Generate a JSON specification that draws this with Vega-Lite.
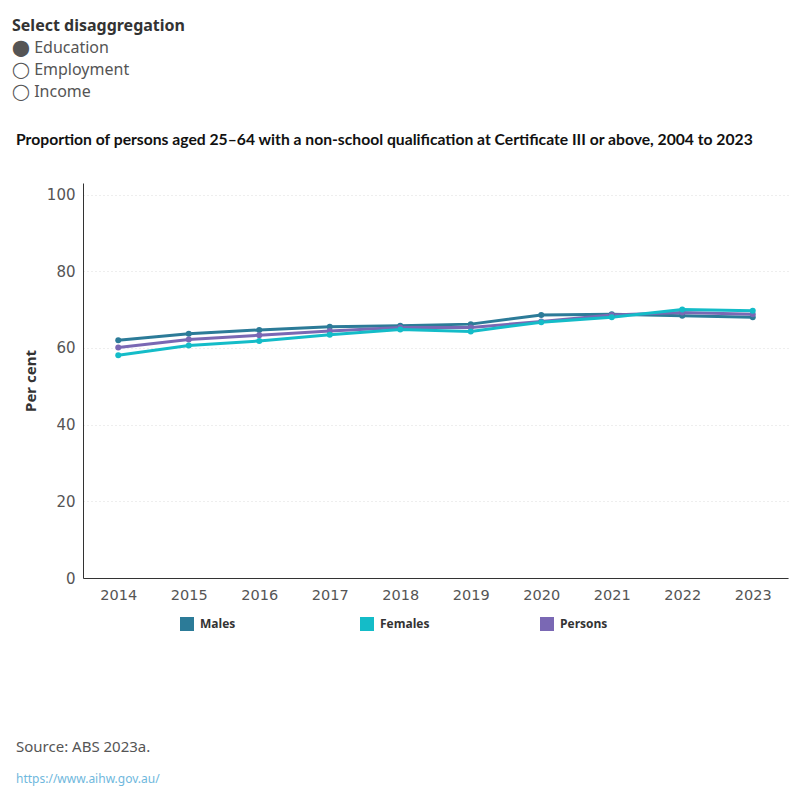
{
  "$schema": "https://vega.github.io/schema/vega-lite/v6.json",
  "background": "white",
  "padding": {"left": 12, "top": 18, "right": 5, "bottom": 5},
  "title": {
    "text": "Select disaggregation",
    "subtitle": ["⬤ Education", "◯ Employment", "◯ Income"],
    "anchor": "start",
    "frame": "bounds",
    "dx": -4,
    "font": "Noto Sans",
    "fontSize": 16,
    "fontWeight": "bold",
    "color": "#333333",
    "subtitleFont": "Noto Sans",
    "subtitleFontSize": 16,
    "subtitleColor": "#555555",
    "subtitleLineHeight": 22,
    "subtitlePadding": 6,
    "offset": 32
  },
  "spacing": 137,
  "vconcat": [
    {
      "width": 705,
      "height": 395,
      "title": {
        "text": "Proportion of persons aged 25–64 with a non-school qualification at Certificate III or above, 2004 to 2023",
        "anchor": "start",
        "frame": "group",
        "dx": -67,
        "font": "Lato",
        "fontSize": 15.7,
        "fontWeight": "bold",
        "color": "#111111",
        "offset": 34
      },
      "data": {
        "values": [
          {"Year": "2014", "Group": "Males", "Value": 62.0},
          {"Year": "2015", "Group": "Males", "Value": 63.7},
          {"Year": "2016", "Group": "Males", "Value": 64.7},
          {"Year": "2017", "Group": "Males", "Value": 65.5},
          {"Year": "2018", "Group": "Males", "Value": 65.8},
          {"Year": "2019", "Group": "Males", "Value": 66.2},
          {"Year": "2020", "Group": "Males", "Value": 68.6},
          {"Year": "2021", "Group": "Males", "Value": 68.8},
          {"Year": "2022", "Group": "Males", "Value": 68.4},
          {"Year": "2023", "Group": "Males", "Value": 68.0},
          {"Year": "2014", "Group": "Persons", "Value": 60.1},
          {"Year": "2015", "Group": "Persons", "Value": 62.2},
          {"Year": "2016", "Group": "Persons", "Value": 63.3},
          {"Year": "2017", "Group": "Persons", "Value": 64.4},
          {"Year": "2018", "Group": "Persons", "Value": 65.3},
          {"Year": "2019", "Group": "Persons", "Value": 65.3},
          {"Year": "2020", "Group": "Persons", "Value": 66.9},
          {"Year": "2021", "Group": "Persons", "Value": 68.6},
          {"Year": "2022", "Group": "Persons", "Value": 69.2},
          {"Year": "2023", "Group": "Persons", "Value": 68.8},
          {"Year": "2014", "Group": "Females", "Value": 58.1},
          {"Year": "2015", "Group": "Females", "Value": 60.6},
          {"Year": "2016", "Group": "Females", "Value": 61.8},
          {"Year": "2017", "Group": "Females", "Value": 63.4},
          {"Year": "2018", "Group": "Females", "Value": 64.8},
          {"Year": "2019", "Group": "Females", "Value": 64.3},
          {"Year": "2020", "Group": "Females", "Value": 66.7},
          {"Year": "2021", "Group": "Females", "Value": 68.0},
          {"Year": "2022", "Group": "Females", "Value": 70.0},
          {"Year": "2023", "Group": "Females", "Value": 69.7}
        ]
      },
      "encoding": {
        "x": {
          "field": "Year",
          "type": "ordinal",
          "scale": {"type": "point", "padding": 0.5},
          "axis": {
            "title": null,
            "labelAngle": 0,
            "ticks": false,
            "grid": false,
            "labelPadding": 10,
            "labelFont": "DejaVu Sans",
            "labelFontSize": 14.5,
            "labelColor": "#555555",
            "domainColor": "#333333"
          }
        },
        "y": {
          "field": "Value",
          "type": "quantitative",
          "scale": {"domain": [0, 103], "nice": false, "zero": true},
          "axis": {
            "title": "Per cent",
            "values": [0, 20, 40, 60, 80, 100],
            "ticks": false,
            "labelPadding": 8,
            "labelFont": "DejaVu Sans",
            "labelFontSize": 15,
            "labelColor": "#555555",
            "titleFont": "Noto Sans",
            "titleFontSize": 15,
            "titleFontWeight": "bold",
            "titleColor": "#333333",
            "titlePadding": 8,
            "domainColor": "#333333",
            "gridColor": "#dddddd",
            "gridDash": [1, 3]
          }
        },
        "color": {
          "field": "Group",
          "type": "nominal",
          "scale": {"domain": ["Males", "Females", "Persons"], "range": ["#2c7b98", "#14bcc8", "#7a68b4"]},
          "legend": {
            "title": null,
            "orient": "none",
            "legendX": 97,
            "legendY": 434,
            "direction": "horizontal",
            "columns": 3,
            "gridAlign": "all",
            "columnPadding": 110,
            "symbolType": "square",
            "symbolSize": 196,
            "symbolOpacity": 1,
            "symbolStrokeWidth": 0,
            "labelFont": "Open Sans",
            "labelFontSize": 12,
            "labelFontWeight": "bold",
            "labelColor": "#333333",
            "labelOffset": 6,
            "padding": 0,
            "encode": {
              "symbols": {
                "update": {
                  "fill": {"scale": "color", "field": "value"},
                  "fillOpacity": {"value": 1},
                  "strokeWidth": {"value": 0}
                }
              }
            }
          }
        }
      },
      "layer": [
        {"mark": {"type": "line", "strokeWidth": 3}},
        {"mark": {"type": "point", "filled": true, "size": 36, "opacity": 1}}
      ]
    },
    {
      "width": 705,
      "height": 1,
      "title": {
        "text": "Source: ABS 2023a.",
        "subtitle": "https://www.aihw.gov.au/",
        "anchor": "start",
        "frame": "group",
        "dx": -67,
        "font": "Noto Sans",
        "fontSize": 15,
        "fontWeight": "normal",
        "color": "#555555",
        "subtitleFont": "Noto Sans",
        "subtitleFontSize": 12,
        "subtitleColor": "#6fb8dd",
        "subtitlePadding": 19
      },
      "data": {"values": [{"t": ""}]},
      "mark": {"type": "text"},
      "encoding": {"text": {"field": "t", "type": "nominal"}}
    }
  ],
  "config": {
    "view": {"stroke": null}
  }
}
